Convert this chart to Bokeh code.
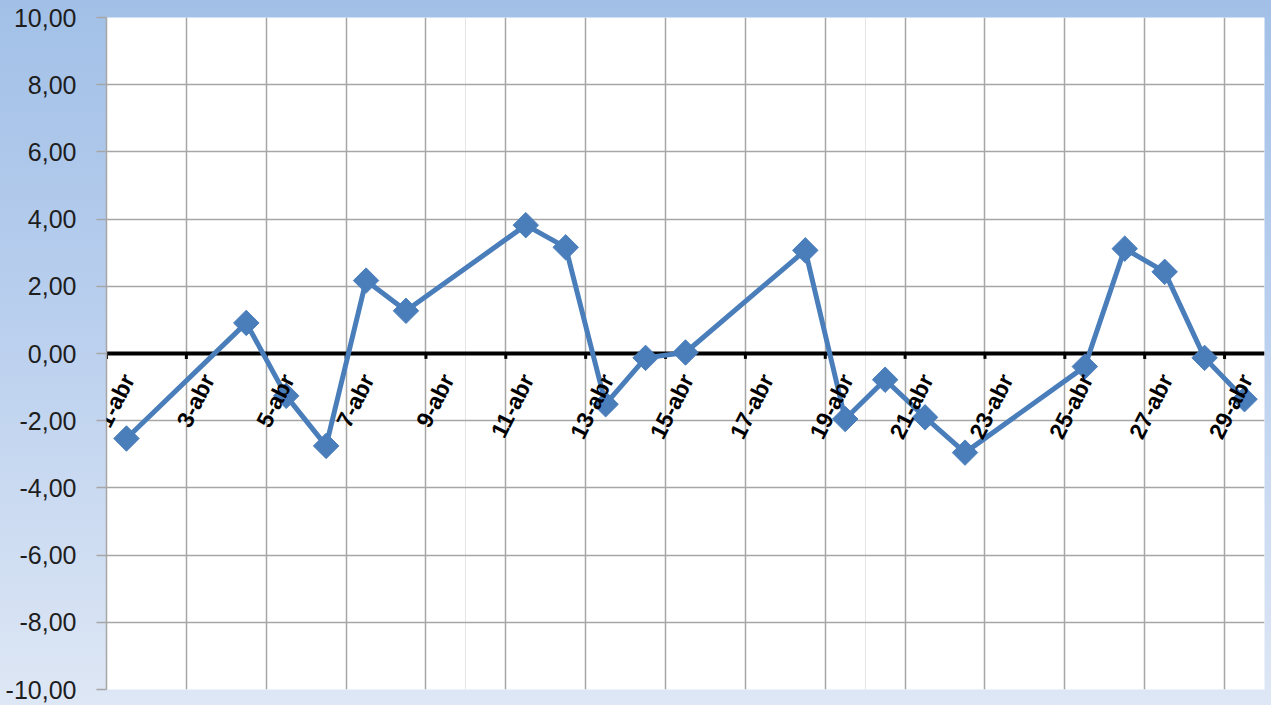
import math
from bokeh.plotting import figure
from bokeh.models import FixedTicker, Grid, Span, ColumnDataSource, LabelSet
from bokeh.core.properties import value
from bokeh.embed import file_html
from bokeh.resources import INLINE

# Data: trading days of April (day of month) and daily values
days = [1, 4, 5, 6, 7, 8, 11, 12, 13, 14, 15, 18, 19, 20, 21, 22, 25, 26, 27, 28, 29]
values = [-2.53, 0.91, -1.26, -2.75, 2.17, 1.27, 3.82, 3.16, -1.51, -0.13, 0.03,
          3.07, -1.95, -0.78, -1.90, -2.95, -0.39, 3.12, 2.43, -0.13, -1.36]

tick_days = [1, 3, 5, 7, 9, 11, 13, 15, 17, 19, 21, 23, 25, 27, 29]
tick_labels = ["1-abr", "3-abr", "5-abr", "7-abr", "9-abr", "11-abr", "13-abr", "15-abr",
               "17-abr", "19-abr", "21-abr", "23-abr", "25-abr", "27-abr", "29-abr"]
y_ticks = [-10, -8, -6, -4, -2, 0, 2, 4, 6, 8, 10]
y_labels = ["-10,00", "-8,00", "-6,00", "-4,00", "-2,00", "0,00", "2,00", "4,00", "6,00", "8,00", "10,00"]

BLUE = "#4a7ebb"
GRID = "#a6a6a6"
FONT = "Liberation Sans"

p = figure(width=1271, height=705, x_range=(1, 30), y_range=(-10, 10),
           output_backend="svg", toolbar_location=None, x_axis_location=None,
           min_border_left=106, min_border_top=17, min_border_right=7, min_border_bottom=16)
p.styles = {"background": "linear-gradient(to bottom, #a2c0e7 0%, #b9cfee 45%, #dee7f5 100%)"}
p.border_fill_color = None
p.background_fill_color = "white"
p.outline_line_color = None

# y axis
p.yaxis.ticker = FixedTicker(ticks=y_ticks)
p.yaxis.major_label_overrides = {t: l for t, l in zip(y_ticks, y_labels)}
p.yaxis.major_label_text_font = FONT
p.yaxis.major_label_text_font_size = "25px"
p.yaxis.major_label_text_color = "#1e1e1e"
p.yaxis.axis_line_color = GRID
p.yaxis.axis_line_width = 1.5
p.yaxis.major_tick_line_color = GRID
p.yaxis.major_tick_line_width = 1.5
p.yaxis.major_tick_out = 10
p.yaxis.major_tick_in = 0
p.yaxis.minor_tick_line_color = None
p.yaxis.major_label_standoff = 20

p.ygrid.ticker = FixedTicker(ticks=y_ticks)
p.ygrid.grid_line_color = GRID
p.ygrid.grid_line_width = 1.5

xgrid = Grid(dimension=0, ticker=FixedTicker(ticks=tick_days),
             grid_line_color=GRID, grid_line_width=1.5)
p.add_layout(xgrid)

# zero axis line
p.add_layout(Span(location=0, dimension="width", line_color="black", line_width=4, level="underlay"))

# tick marks on the zero axis
p.segment(x0=tick_days, x1=tick_days, y0=[0] * len(tick_days), y1=[-0.16] * len(tick_days),
          line_color="black", line_width=3)

# series (placed between tick marks, at mid-day)
xs = [d + 0.5 for d in days]
src = ColumnDataSource(dict(x=xs, y=values))
p.line(x="x", y="y", source=src, line_color=BLUE, line_width=5)
p.scatter(x="x", y="y", source=src, marker="square", angle=math.pi / 4, size=18,
          fill_color=BLUE, line_color=BLUE)

# category labels next to the zero axis
lab_src = ColumnDataSource(dict(x=tick_days, y=[0] * len(tick_days), t=tick_labels))
labels = LabelSet(x="x", y="y", text="t", source=lab_src, angle=math.radians(63),
                  text_align="right", text_baseline="middle", x_offset=22, y_offset=-22,
                  text_font=value(FONT), text_font_style="bold", text_font_size="23px",
                  text_color="black")
p.add_layout(labels)

open("out.html", "w").write(file_html(p, INLINE))
